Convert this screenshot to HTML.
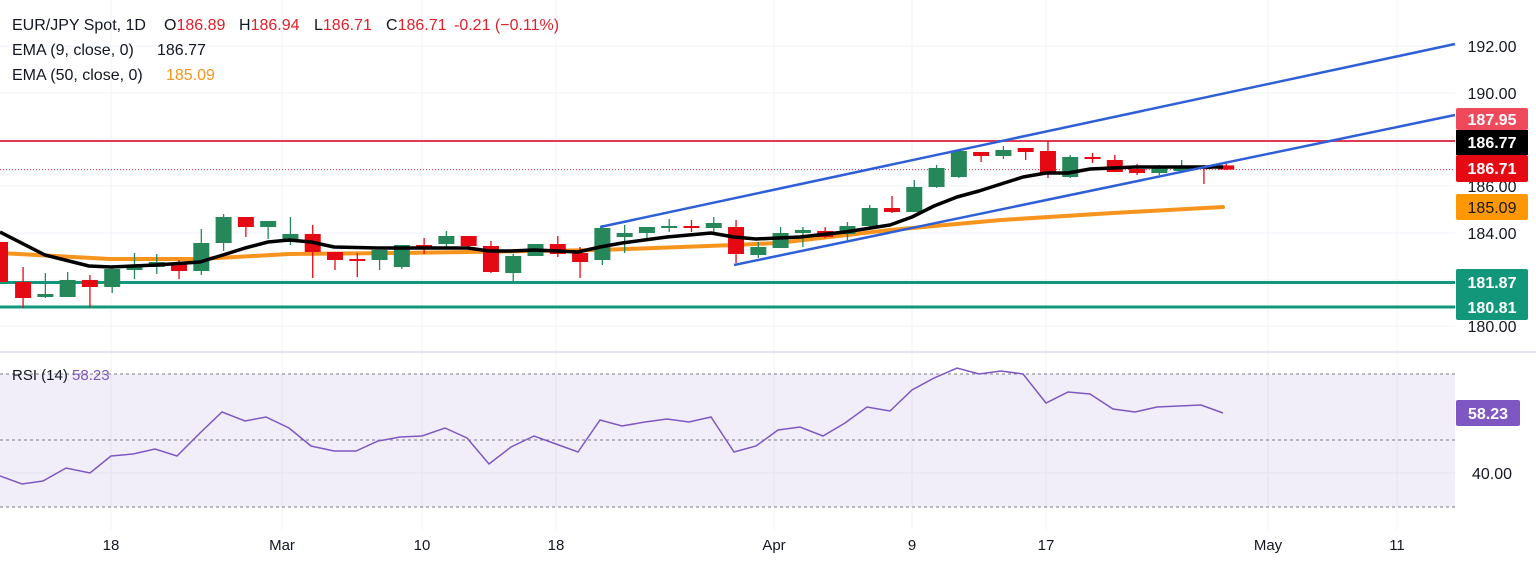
<!DOCTYPE html>
<html><head><meta charset="utf-8"><style>
html,body{margin:0;padding:0;background:#fff;}
svg{display:block;font-family:"Liberation Sans",sans-serif;}
</style></head><body>
<svg id="c" width="1536" height="564" viewBox="0 0 1536 564" xmlns="http://www.w3.org/2000/svg">
<rect width="1536" height="564" fill="#fff"/>
<g id="grid" stroke="#f0f3fa" stroke-width="1"></g>
<rect x="0" y="374" width="1455" height="133" fill="#7e57c2" fill-opacity="0.1"/>
<line x1="0" y1="374" x2="1455" y2="374" stroke="#787b86" stroke-dasharray="3,3"/>
<line x1="0" y1="440" x2="1455" y2="440" stroke="#787b86" stroke-dasharray="3,3"/>
<line x1="0" y1="507" x2="1455" y2="507" stroke="#787b86" stroke-dasharray="3,3"/>
<line x1="0" y1="352" x2="1536" y2="352" stroke="#e0e3eb" stroke-width="2"/>
<line x1="0" y1="141" x2="1455" y2="141" stroke="#e03a52" stroke-width="2"/>
<line x1="0" y1="282.5" x2="1455" y2="282.5" stroke="#12977b" stroke-width="3"/>
<line x1="0" y1="307" x2="1455" y2="307" stroke="#12977b" stroke-width="3"/>
<line x1="0" y1="169.6" x2="1455" y2="169.6" stroke="#e0303a" stroke-width="1" stroke-dasharray="1,2"/>
<polyline fill="none" stroke="#f7941d" stroke-width="4" stroke-linecap="round" points="0,253 110,259 200,259 289,254 400,253 600,250 734,245 778,243 890,230 1001,220 1113,213 1223,207"/>
<g id="candles"></g>
<polyline fill="none" stroke="#000" stroke-width="3.5" stroke-linejoin="round" points="0,232 45,255 89,266 111,267 156,265 200,262 223,255 245,248 268,242 289,240 311,242 334,247 378,248 423,248 468,248 489,251 511,251 534,250 557,251 578,252 600,247 622,243 667,237 711,233 734,237 756,239 800,237 845,232 890,225 912,217 934,206 957,197 979,191 1001,184 1023,177 1046,173 1068,173 1090,169 1135,167 1223,167"/>
<line x1="600" y1="227" x2="1455" y2="44" stroke="#2f5fd6" stroke-width="2.5"/>
<line x1="734" y1="265" x2="1455" y2="115" stroke="#2f5fd6" stroke-width="2.5"/>
<polyline fill="none" stroke="#7e57c2" stroke-width="1.5" points="0,476 22,484 43,481 66,468 90,473 111,456 133,454 155,449 177,456 200,433 222,412 245,421 266,417 289,428 311,446 334,451 356,451 378,441 400,437 422,436 445,428 467,438 489,464 511,447 534,436 556,444 578,452 600,420 622,426 645,422 667,419 689,422 711,417 734,452 756,446 778,430 800,427 823,436 845,423 867,407 890,411 912,390 934,378 957,368 979,374 1001,371 1023,374 1046,403 1068,392 1090,394 1113,409 1135,412 1157,407 1179,406 1201,405 1223,413"/>
<g font-size="16" fill="#131722">
<text x="1492" y="52" text-anchor="middle">192.00</text>
<text x="1492" y="99" text-anchor="middle">190.00</text>
<text x="1492" y="192" text-anchor="middle">186.00</text>
<text x="1492" y="239" text-anchor="middle">184.00</text>
<text x="1492" y="332" text-anchor="middle">180.00</text>
<text x="1492" y="479" text-anchor="middle">40.00</text>
</g>
<g font-size="16" font-weight="bold" fill="#fff" text-anchor="middle">
<rect x="1456" y="108" width="72" height="22" rx="2" fill="#ef4a5c"/><text x="1492" y="125">187.95</text>
<rect x="1456" y="130" width="72" height="25" fill="#000"/><text x="1492" y="148">186.77</text>
<rect x="1456" y="155" width="72" height="27" rx="2" fill="#e50914"/><text x="1492" y="174">186.71</text>
<rect x="1456" y="194" width="72" height="26" rx="2" fill="#ff9800"/><text x="1492" y="213" fill="#131722" font-weight="normal">185.09</text>
<rect x="1456" y="269" width="72" height="51" rx="2" fill="#12977b"/><text x="1492" y="288">181.87</text><text x="1492" y="313">180.81</text>
<rect x="1456" y="400" width="64" height="26" rx="2" fill="#7e57c2"/><text x="1488" y="419">58.23</text>
</g>
<g font-size="15" fill="#131722" text-anchor="middle">
<text x="111" y="550">18</text><text x="282" y="550">Mar</text><text x="422" y="550">10</text><text x="556" y="550">18</text>
<text x="774" y="550">Apr</text><text x="912" y="550">9</text><text x="1046" y="550">17</text><text x="1268" y="550">May</text><text x="1397" y="550">11</text>
</g>
<g font-size="16" fill="#131722">
<text x="12" y="30">EUR/JPY Spot, 1D</text>
<text x="164" y="30">O<tspan fill="#e0202a">186.89</tspan></text>
<text x="239" y="30">H<tspan fill="#e0202a">186.94</tspan></text>
<text x="314" y="30">L<tspan fill="#e0202a">186.71</tspan></text>
<text x="386" y="30">C<tspan fill="#e0202a">186.71</tspan></text>
<text x="454" y="30" fill="#e0202a">-0.21 (−0.11%)</text>
<text x="12" y="55">EMA (9, close, 0)</text><text x="157" y="55">186.77</text>
<text x="12" y="80">EMA (50, close, 0)</text><text x="166" y="80" fill="#f7941d">185.09</text>
<text x="12" y="380" font-size="15">RSI (14)  <tspan fill="#7e57c2">58.23</tspan></text>
</g>
</svg>
<script>
var ns="http://www.w3.org/2000/svg";
var g=document.getElementById('grid');
function ln(p,a){var e=document.createElementNS(ns,'line');for(var k in a)e.setAttribute(k,a[k]);p.appendChild(e);return e;}
[111,282,422,556,774,912,1046,1268,1397].forEach(function(x){ln(g,{x1:x,y1:0,x2:x,y2:530});});
[46,93,139,186,233,280,326,473].forEach(function(y){ln(g,{x1:0,y1:y,x2:1455,y2:y});});
var C=[[242,282,242,282],[282,298,267,308],[297,294,273,298],[297,280,272,297],[280,287,275,307],[287,269,268,293],[270,267,253,279],[267,262,254,274],[263,271,260,279],[271,243,229,275],[243,217,214,251],[217,227,217,237],[227,221,221,239],[242,234,217,245],[234,252,225,278],[252,260,252,270],[259,260,253,277],[260,250,250,270],[267,245,245,269],[245,245,238,254],[244,236,231,247],[236,246,236,250],[246,272,241,273],[273,256,254,281],[256,244,244,256],[244,254,236,257],[253,262,247,278],[260,228,225,265],[237,233,225,253],[233,227,227,240],[228,226,219,232],[226,228,220,232],[228,223,217,232],[227,254,220,263],[255,247,242,258],[248,233,227,248],[233,230,227,247],[231,237,227,238],[234,226,222,240],[226,208,205,227],[208,212,196,213],[212,187,180,212],[187,168,165,188],[177,151,151,178],[152,156,152,162],[156,150,146,159],[148,152,148,160],[151,173,141,178],[177,157,155,178],[157,159,153,163],[160,172,155,172],[169,173,164,175],[173,167,165,175],[171,166,160,171],[167,167,165,184],[165.4,169.6,164,170]];
var cg=document.getElementById('candles');
C.forEach(function(c,i){var x=0.8+22.28*i;var up=c[1]<c[0];var col=up?'#26875a':'#e50914';
ln(cg,{x1:x,y1:c[2],x2:x,y2:c[3],stroke:col,'stroke-width':1.3});
var r=document.createElementNS(ns,'rect');var t=Math.min(c[0],c[1]),h=Math.max(2,Math.abs(c[0]-c[1]));
r.setAttribute('x',i==0?0:x-8);r.setAttribute('width',i==0?8:16);r.setAttribute('y',t);r.setAttribute('height',h);r.setAttribute('fill',col);cg.appendChild(r);});
</script>
</body></html>
